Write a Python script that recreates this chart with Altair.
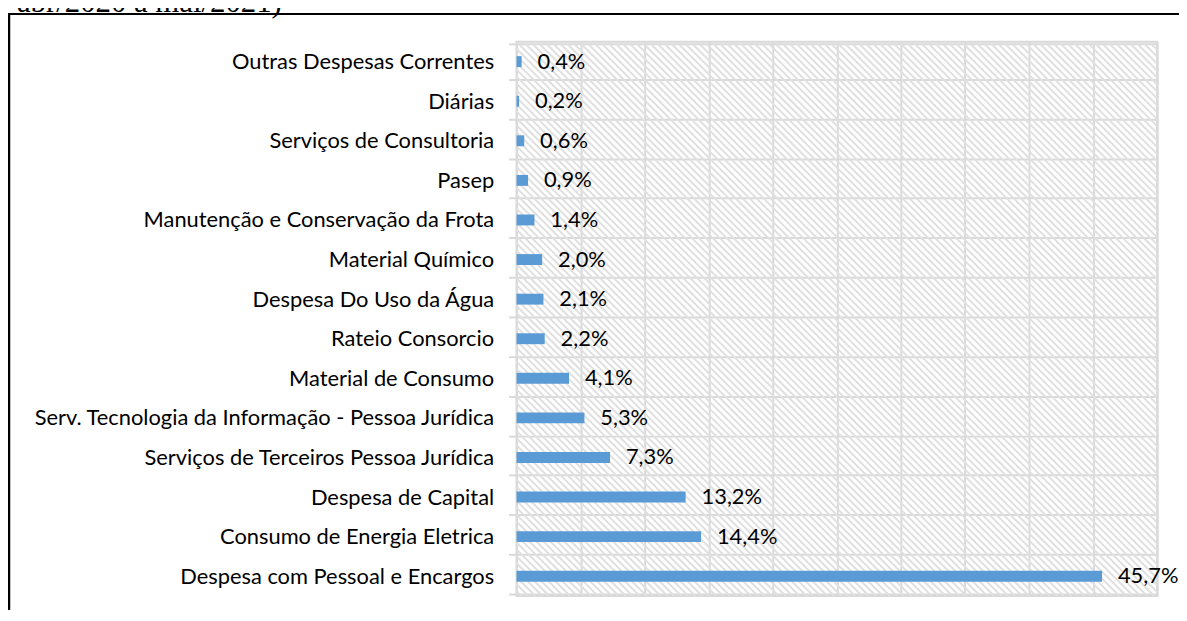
import altair as alt
import pandas as pd

categories = [
    "Outras Despesas Correntes",
    "Diárias",
    "Serviços de Consultoria",
    "Pasep",
    "Manutenção e Conservação da Frota",
    "Material Químico",
    "Despesa Do Uso da Água",
    "Rateio Consorcio ",
    "Material de Consumo",
    "Serv. Tecnologia da Informação - Pessoa Jurídica",
    "Serviços de Terceiros Pessoa Jurídica",
    "Despesa de Capital",
    "Consumo de Energia Eletrica",
    "Despesa com Pessoal e Encargos",
]
values = [0.4, 0.2, 0.6, 0.9, 1.4, 2.0, 2.1, 2.2, 4.1, 5.3, 7.3, 13.2, 14.4, 45.7]
x_ticks = [0, 5, 10, 15, 20, 25, 30, 35, 40, 45, 50]
header_text = "abr/2020 a mai/2021)"

labels = [f"{v:.1f}%".replace(".", ",") for v in values]
df = pd.DataFrame({"cat": categories, "val": values, "label": labels})
one = pd.DataFrame({"t": [header_text]})

W, H = 645, 558
PAD_L, PAD_T = 512, 32
FONT = "Lato"
GRID = "#d9d9d9"

# decorative diagonal hatch in the plot background
hatch = (
    alt.Chart(alt.sequence(start=-82, stop=95, step=1, as_="k"))
    .transform_calculate(a="datum.k*7", b="datum.k*7+558", top="558", bot="0")
    .mark_rule(color="#e0e0e0", strokeWidth=2, clip=True)
    .encode(
        x=alt.X("a:Q", scale=alt.Scale(domain=[0, W], nice=False, zero=False), axis=None),
        x2="b:Q",
        y=alt.Y("top:Q", scale=alt.Scale(domain=[0, H], nice=False, zero=False), axis=None),
        y2="bot:Q",
    )
)

base = alt.Chart(df)
ysort = categories

bars = base.mark_bar(size=11, color="#5B9BD5").encode(
    x=alt.X(
        "val:Q",
        scale=alt.Scale(domain=[0, 50], nice=False),
        axis=alt.Axis(
            values=x_ticks, labels=False, ticks=False, domain=False, title=None,
            grid=True, gridColor=GRID, gridWidth=2,
        ),
    ),
    y=alt.Y(
        "cat:N",
        sort=ysort,
        axis=alt.Axis(
            title=None, domain=False, tickBand="extent", grid=True, gridColor=GRID,
            gridWidth=2, tickColor=GRID, tickWidth=2, tickSize=8, labelPadding=15,
            labelFontSize=22, labelFont=FONT, labelColor="#000000", labelLimit=700,
        ),
    ),
)

texts = base.mark_text(align="left", baseline="middle", dx=16, fontSize=22,
                       font=FONT, color="#000000").encode(
    x="val:Q", y=alt.Y("cat:N", sort=ysort), text="label:N"
)

deco = alt.Chart(one)
frame_left = deco.mark_rule(color="#000000", strokeWidth=2.5).encode(
    x=alt.value(1 - PAD_L), y=alt.value(4 - PAD_T), y2=alt.value(621 - 8 - PAD_T)
)
frame_top = deco.mark_rule(color="#000000", strokeWidth=2).encode(
    x=alt.value(-PAD_L), x2=alt.value(1179 - PAD_L), y=alt.value(4 - PAD_T)
)
header = deco.mark_text(
    align="left", baseline="alphabetic", fontSize=31, font="Liberation Serif",
    color="#000000",
).encode(x=alt.value(9 - PAD_L), y=alt.value(2 - PAD_T), text="t:N")

main = alt.layer(bars, texts)

chart = (
    alt.layer(hatch, main, frame_left, frame_top, header)
    .resolve_scale(x="independent", y="independent")
    .properties(
        width=W, height=H,
        autosize=alt.AutoSizeParams(type="none"),
        padding={"left": PAD_L, "top": PAD_T, "right": 1179 - PAD_L - W, "bottom": 12},
    )
    .configure_view(stroke=GRID, strokeWidth=2)
)

chart.save("out.html", embed_options={"renderer": "svg", "actions": False})
